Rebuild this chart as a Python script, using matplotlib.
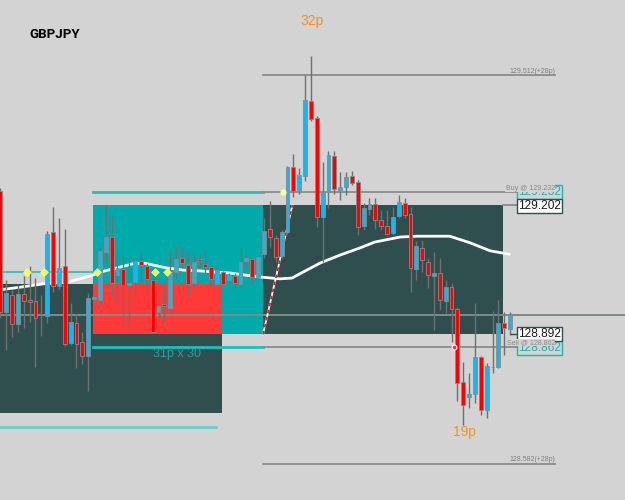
import matplotlib
matplotlib.use('Agg')
import matplotlib.pyplot as plt
from matplotlib.patches import Rectangle
import numpy as np

symbol = "GBPJPY"

opens = [129.235, 128.946, 128.986, 128.917, 128.989, 128.974, 128.972, 128.938, 128.936, 129.137,
         129.008, 129.056, 128.872, 128.919, 128.874, 128.840, 128.977, 128.974, 129.089, 129.125,
         129.034, 129.049, 129.010, 129.017, 129.068, 129.056, 129.022, 128.946, 128.965, 128.955,
         129.041, 129.075, 129.058, 129.015, 129.072, 129.061, 129.053, 129.013, 129.041, 129.022,
         129.032, 129.013, 129.068, 129.072, 129.029, 129.084, 129.144, 129.123, 129.080, 129.137,
         129.293, 129.238, 129.271, 129.450, 129.410, 129.173, 129.233, 129.319, 129.235, 129.245,
         129.271, 129.257, 129.151, 129.192, 129.204, 129.166, 129.151, 129.135, 129.175, 129.206,
         129.180, 129.049, 129.099, 129.065, 129.032, 129.039, 128.972, 129.005, 128.953, 128.778,
         128.742, 128.750, 128.838, 128.711, 128.814, 128.814, 128.919, 128.905]
closes = [128.946, 128.991, 128.917, 128.989, 128.972, 128.970, 128.931, 128.938, 129.132, 129.008,
          129.051, 128.869, 128.922, 128.869, 128.840, 128.979, 128.982, 129.092, 129.125, 129.015,
          129.051, 129.010, 129.015, 129.068, 129.058, 129.025, 128.898, 128.960, 128.960, 129.041,
          129.072, 129.063, 129.013, 129.065, 129.068, 129.053, 129.025, 129.046, 129.013, 129.034,
          129.015, 129.065, 129.075, 129.029, 129.077, 129.139, 129.125, 129.077, 129.137, 129.293,
          129.235, 129.273, 129.453, 129.407, 129.173, 129.230, 129.321, 129.240, 129.245, 129.269,
          129.254, 129.149, 129.194, 129.204, 129.166, 129.151, 129.132, 129.173, 129.209, 129.178,
          129.051, 129.104, 129.070, 129.034, 129.039, 128.974, 129.005, 128.953, 128.776, 128.723,
          128.750, 128.838, 128.711, 128.817, 128.814, 128.919, 128.907, 128.939]
highs = [129.242, 129.022, 128.998, 129.010, 129.032, 129.056, 129.027, 128.986, 129.139, 129.197,
         129.171, 129.144, 128.967, 128.941, 128.898, 128.991, 128.984, 129.099, 129.202, 129.178,
         129.084, 129.077, 129.077, 129.077, 129.087, 129.063, 129.046, 128.982, 129.017, 129.089,
         129.101, 129.101, 129.087, 129.082, 129.082, 129.094, 129.058, 129.051, 129.044, 129.039,
         129.039, 129.099, 129.082, 129.075, 129.080, 129.171, 129.211, 129.130, 129.142, 129.295,
         129.324, 129.290, 129.513, 129.558, 129.415, 129.304, 129.331, 129.331, 129.281, 129.281,
         129.283, 129.261, 129.206, 129.218, 129.218, 129.190, 129.190, 129.197, 129.226, 129.218,
         129.197, 129.116, 129.118, 129.075, 129.089, 129.075, 129.022, 129.015, 128.958, 128.826,
         128.800, 128.967, 128.840, 128.824, 128.948, 128.974, 128.946, 128.946]
lows = [128.931, 128.855, 128.886, 128.898, 128.907, 128.922, 128.814, 128.888, 128.919, 128.994,
        129.001, 128.864, 128.867, 128.812, 128.821, 128.757, 128.974, 128.962, 129.065, 128.982,
        128.962, 128.910, 128.907, 128.982, 129.015, 128.986, 128.895, 128.927, 128.922, 128.951,
        129.027, 129.051, 128.986, 129.005, 129.051, 129.039, 129.005, 129.008, 129.008, 129.013,
        129.003, 129.003, 129.051, 129.017, 129.027, 129.075, 129.101, 129.065, 129.075, 129.132,
        129.221, 129.228, 129.259, 129.403, 129.149, 129.065, 129.194, 129.228, 129.214, 129.226,
        129.250, 129.130, 129.142, 129.178, 129.144, 129.142, 129.130, 129.130, 129.171, 129.171,
        128.994, 129.022, 129.041, 129.003, 128.903, 128.951, 128.944, 128.874, 128.733, 128.675,
        128.716, 128.728, 128.699, 128.692, 128.800, 128.812, 128.843, 128.891]

ma_bar = [-0.5, 3.4, 7.3, 11.4, 14.1, 15.8, 17.0, 19.9, 22.6, 24.4, 26.1, 28.4, 31.2, 34.1, 36.6, 39.2,
          41.8, 44.7, 47.7, 49.8, 51.1, 54.6, 58.0, 61.4, 63.9, 68.2, 71.1, 73.8, 76.7, 80.2, 83.6, 86.8]
ma_val = [128.998, 129.005, 129.013, 129.017, 129.027, 129.034, 129.041, 129.051, 129.061, 129.063,
          129.058, 129.051, 129.046, 129.044, 129.041, 129.039, 129.034, 129.029, 129.025, 129.027,
          129.037, 129.063, 129.082, 129.099, 129.113, 129.125, 129.127, 129.127, 129.127, 129.111,
          129.092, 129.084]

signal_bar = [4.55, 7.4, 16.45, 26.4, 28.4]
signal_val = [129.041, 129.041, 129.041, 129.041, 129.041]

buy_price = 129.232
sell_price = 128.862
tp_high = 129.512
tp_low = 128.582
box_top = 129.202
box_bot = 128.892
mid_level = 129.012
left_bottom = 128.704
left_level = 129.041
low_level = 128.671

high_text = "32p"
low_text = "19p"
trade_text = "31p x 30"

BG = '#D3D3D3'
fig = plt.figure(figsize=(6.25, 5), dpi=100, facecolor=BG)
ax = fig.add_axes([0, 0, 1, 1])
ax.set_facecolor(BG)
ax.set_xlim(-0.05, 106.6)
ax.set_ylim(128.496, 129.692)
ax.axis('off')

xL = -2
xA = 15.82
xR = 37.83
xM = 44.83
xD = 85.78
xLab = 88.17
xEnd = 94.66

# boxes
ax.add_patch(Rectangle((xL, left_bottom), xR - xL, mid_level - left_bottom, fc='#2F4F4F', ec='none', zorder=1))
ax.add_patch(Rectangle((xA, box_bot), xM - xA, box_top - box_bot, fc='#00AAAA', ec='none', zorder=1.1))
ax.add_patch(Rectangle((xA, box_bot), xR - xA, mid_level - box_bot, fc='#FF3838', ec='none', zorder=1.2))
ax.add_patch(Rectangle((xM, box_bot), xD - xM, box_top - box_bot, fc='#2F4F4F', ec='none', zorder=1.1))

# level lines
ax.plot([xA, xM], [buy_price, buy_price], color='#12C4C4', lw=2, zorder=2)
ax.plot([xM, xLab], [buy_price, buy_price], color='#8C8C8C', lw=1.3, zorder=2)
ax.plot([xA, xM], [sell_price, sell_price], color='#12C4C4', lw=2, zorder=2)
ax.plot([xM, xLab], [sell_price, sell_price], color='#8C8C8C', lw=1.3, zorder=2)
ax.plot([xD, xLab], [box_top, box_top], color='#8C8C8C', lw=1.3, zorder=2)
ax.plot([xM, xEnd], [tp_high, tp_high], color='#8C8C8C', lw=1.3, zorder=2)
ax.plot([xM, xEnd], [tp_low, tp_low], color='#8C8C8C', lw=1.3, zorder=2)
ax.plot([xL, xA], [left_level, left_level], color='#12C4C4', lw=1.2, zorder=2)
ax.plot([xL, 36.81], [low_level, low_level], color='#6CCFCF', lw=2, zorder=2)
ax.axhline(closes[-1], color='#7E8C8C', lw=1.4, zorder=2)

# diagonal trade line
ax.plot([xM, 49.85], [box_bot, box_top], color='white', lw=1.3, zorder=3)
ax.plot([xM, 49.85], [box_bot, box_top], color='#E02020', lw=1.3, ls=(0, (2, 2)), zorder=3.1)

# moving average
ax.plot(ma_bar, ma_val, color='white', lw=2, zorder=3)

# signals
ax.scatter(signal_bar, signal_val, marker='D', s=15, color='#FFFF30', edgecolors='#FFFFA0', linewidths=0.5, zorder=6)
ax.scatter([48.25], [buy_price], marker='o', s=12, color='#FFFF90', zorder=6)
ax.scatter([77.4], [sell_price], marker='o', s=12, color='#FF3030', edgecolors='white', linewidths=0.8, zorder=6)

# candles
idx = np.arange(len(opens))
o = np.array(opens); c = np.array(closes); h = np.array(highs); l = np.array(lows)
ax.vlines(idx, l, h, color='#707070', lw=1, zorder=4)
for i in idx:
    lo, hi = min(o[i], c[i]), max(o[i], c[i])
    if c[i] > o[i]:
        col = '#19B5EC'
    elif c[i] < o[i]:
        col = '#FF0000'
    else:
        col = '#505050'
    hgt = max(hi - lo, 0.0012)
    ax.bar(i, hgt, bottom=lo, width=0.66, color=col, edgecolor='#8A8A8A', linewidth=0.6, zorder=5)

# connector from last candle
ax.plot([87.2, xLab], [box_bot, box_bot], color='#2F4F4F', lw=1, zorder=5)

# texts
ax.text(5.0, 129.61, symbol, fontsize=9.5, fontweight='bold', family='Roboto', color='black', va='center', ha='left', zorder=7)
ax.text(51.15, 129.642, high_text, fontsize=10, color='#F7931E', va='center', ha='left', family='Liberation Sans', zorder=7)
ax.text(77.2, 128.659, low_text, fontsize=10, color='#F7931E', va='center', ha='left', family='Liberation Sans', zorder=7)
ax.text(26.0, 128.846, trade_text, fontsize=9, color='#2A9C9C', va='center', ha='left', family='Liberation Sans', zorder=7)

ax.text(xEnd, tp_high + 0.010, f"{tp_high:.3f}(+28p)", fontsize=5, color='#808080', ha='right', va='center', family='Liberation Sans', zorder=7)
ax.text(xEnd, tp_low + 0.010, f"{tp_low:.3f}(+28p)", fontsize=5, color='#808080', ha='right', va='center', family='Liberation Sans', zorder=7)

lab = dict(fontsize=8.6, family='Liberation Sans', ha='left', va='center', zorder=8)
ax.text(xLab + 0.1, buy_price + 0.0005, f"{buy_price:.3f}", color='#20B0B0',
        bbox=dict(boxstyle='square,pad=0.08', fc=BG, ec='#20B5B5', lw=1), **lab)
ax.text(xLab + 0.1, box_top - 0.0025, f"{box_top:.3f}", color='#1A1A1A',
        bbox=dict(boxstyle='square,pad=0.08', fc='white', ec='#2F4F4F', lw=1), **lab)
ax.text(xLab + 0.1, sell_price - 0.002, f"{sell_price:.3f}", color='#20B0B0',
        bbox=dict(boxstyle='square,pad=0.08', fc=BG, ec='#20B5B5', lw=1), **lab)
ax.text(xLab + 0.1, box_bot, f"{box_bot:.3f}", color='#1A1A1A',
        bbox=dict(boxstyle='square,pad=0.08', fc='white', ec='#2F4F4F', lw=1), **lab)

small = dict(fontsize=5, family='Liberation Sans', ha='right', va='center', color='#8A8A8A', zorder=9)
ax.text(xEnd, buy_price + 0.010, f"Buy @ {buy_price:.3f}", bbox=dict(boxstyle='square,pad=0.05', fc=BG, ec='none'), **small)
ax.text(xEnd, sell_price + 0.011, f"Sell @ {sell_price:.3f}", bbox=dict(boxstyle='square,pad=0.05', fc=BG, ec='none'), **small)

fig.savefig('out.png', dpi=100, facecolor=BG)
